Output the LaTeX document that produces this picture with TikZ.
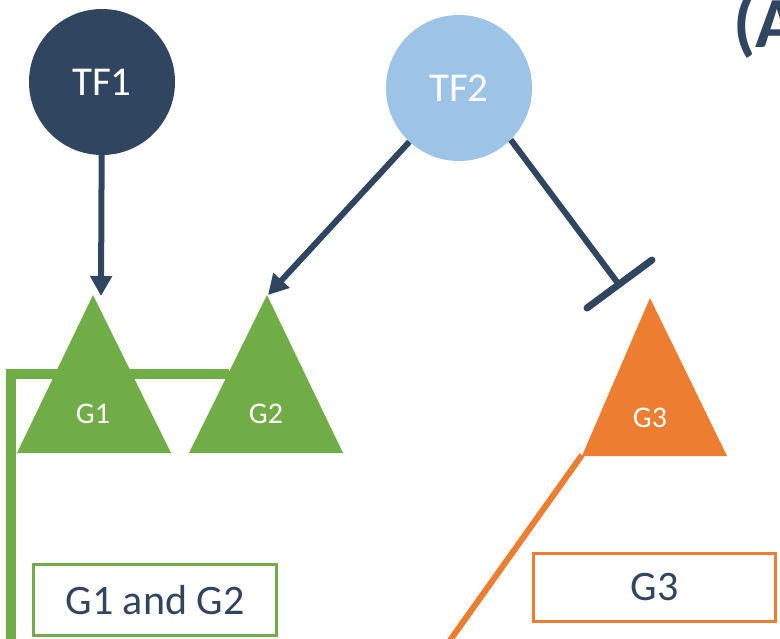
\documentclass[tikz,border=0pt]{standalone}
\usepackage{fontspec}
\setmainfont{Carlito}
\usetikzlibrary{arrows.meta}
\definecolor{navy}{HTML}{30455F}
\definecolor{lblue}{HTML}{9DC3E6}
\definecolor{ggreen}{HTML}{70AD47}
\definecolor{orng}{HTML}{ED7D31}
\tikzset{
  tf/.style={circle, inner sep=0pt, minimum size=146pt, text=white, font=\fontsize{41}{41}\selectfont},
  glabel/.style={inner sep=0pt, text=white, font=\fontsize{30}{30}\selectfont},
  act/.style={draw=navy, line width=6pt, -{Triangle[length=20pt,width=21pt]}},
  inh/.style={draw=navy, line width=6pt},
  bar/.style={draw=navy, line width=7pt, line cap=round},
  outbox/.style={inner sep=0pt, line width=3pt, fill=white, text=navy, font=\fontsize{42}{42}\selectfont},
}
\begin{document}
\begin{tikzpicture}[x=1pt,y=-1pt]
\useasboundingbox (0,0) rectangle (780,638);
\clip (0,0) rectangle (780,638);
% label
\node[anchor=west, inner sep=0pt, text=navy, font=\fontsize{72}{72}\selectfont\bfseries] (lab) at (733,26) {(A};
% circles
\node[tf, fill=navy] (tf1) at (102,82) {TF1};
\node[tf, fill=lblue] (tf2) at (459,88) {TF2};
% coordinates
\coordinate (g1tip) at (101,296);
\coordinate (g2tip) at (268,295);
\coordinate (g3end) at (617,282);
\coordinate (bara) at (587,308);
\coordinate (barb) at (652,260);
\coordinate (g2edge) at (229,374);
\coordinate (gcorner) at (10.5,374);
\coordinate (gbottom) at (10.5,660);
\coordinate (g3corner) at (582,455);
\coordinate (obottom) at (436,660);
% feedback lines
\draw[ggreen, line width=10pt, line join=miter] (g2edge) -- (gcorner) -- (gbottom);
\draw[orng, line width=6pt] (g3corner) -- (obottom);
% triangles
\fill[ggreen] (17,453) -- (93,295) -- (171,453) -- cycle;
\fill[ggreen] (189,453) -- (267,295) -- (343,453) -- cycle;
\fill[orng] (582,456) -- (650,298) -- (727,456) -- cycle;
\node[glabel] (g1) at (93,414) {G1};
\node[glabel] (g2) at (266,414) {G2};
\node[glabel] (g3) at (650,418) {G3};
% regulation
\draw[act] (tf1) -- (g1tip);
\draw[act] (tf2) -- (g2tip);
\draw[inh] (tf2.-45) -- (g3end);
\draw[bar] (bara) -- (barb);
% output boxes
\node[outbox, draw=ggreen, minimum width=243pt, minimum height=71pt] (box12) at (155,600) {G1 and G2};
\node[outbox, draw=orng, minimum width=242pt, minimum height=68pt] (box3) at (654.5,587.5) {G3};
\end{tikzpicture}
\end{document}
